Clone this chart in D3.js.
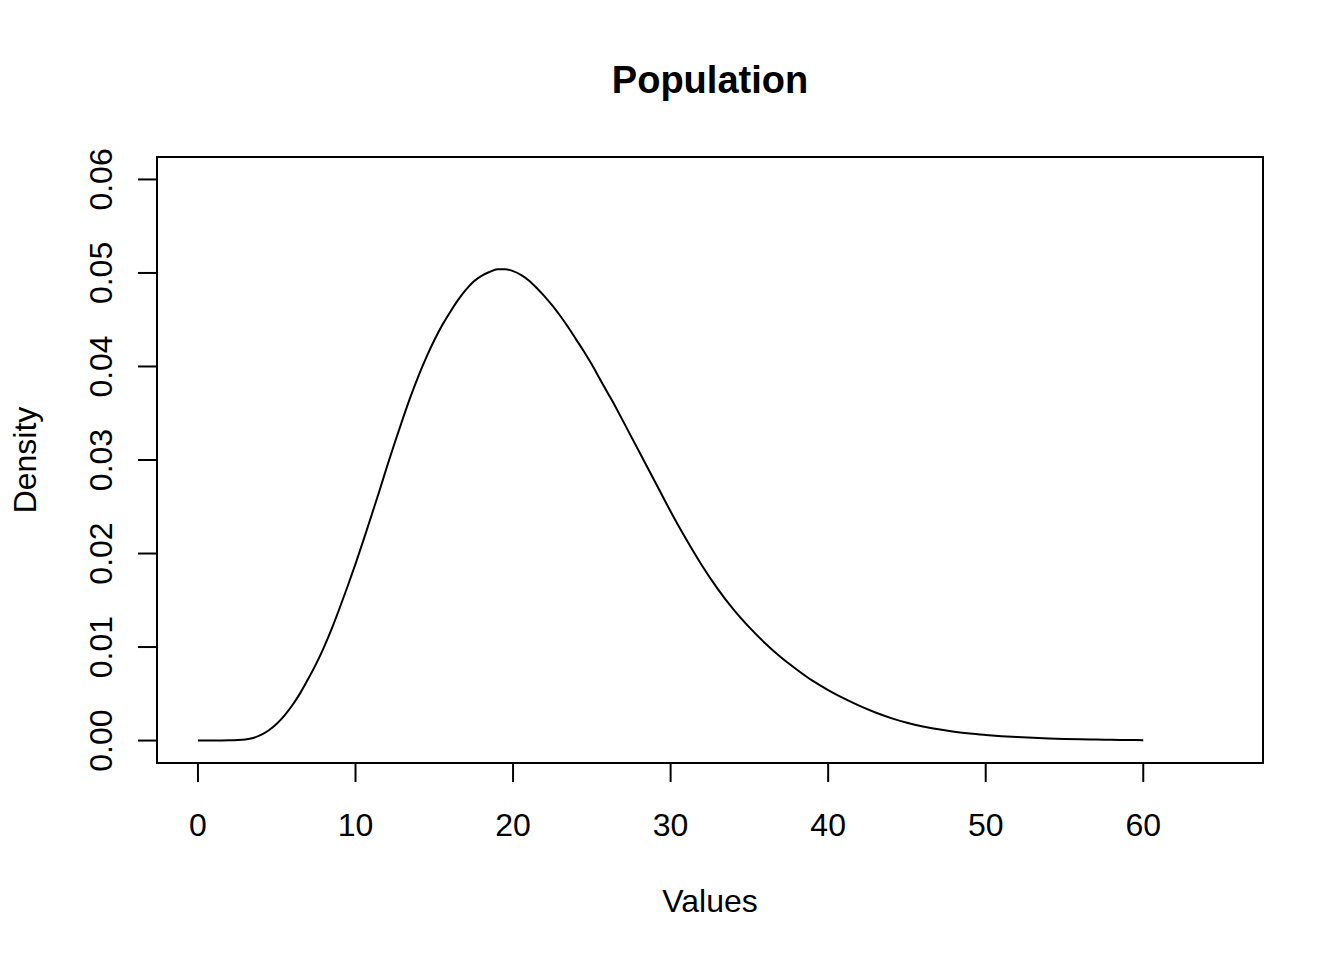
<!DOCTYPE html>
<html>
<head>
<meta charset="utf-8">
<title>Population</title>
<script src="https://cdn.jsdelivr.net/npm/d3@7/dist/d3.min.js"></script>
<style>
  body { margin: 0; background: #fff; }
  text { font-family: "Liberation Sans", Arial, Helvetica, sans-serif; fill: #000; }
</style>
</head>
<body>
<svg id="chart" width="1344" height="960"></svg>
<script>
// density curve
var xVals = [0, 1, 2, 2.5, 3, 3.5, 4, 4.5, 5, 5.5, 6, 6.5, 7, 7.5, 8, 8.5, 9, 9.5,
  10, 10.5, 11, 11.5, 12, 12.5, 13, 13.5, 14, 14.5, 15, 15.5, 16, 16.5, 17, 17.5,
  18, 18.5, 19, 19.5, 20, 20.5, 21, 21.5, 22, 22.5, 23, 23.5, 24, 24.5, 25, 25.5,
  26, 26.5, 27, 27.5, 28, 28.5, 29, 29.5, 30, 31, 32, 33, 34, 35, 36, 37, 38, 39,
  40, 41, 42, 43, 44, 45, 46, 47, 48, 49, 50, 51, 52, 53, 54, 55, 56, 57, 58, 59, 60];
var densVals = [0, 0, 0.00002, 0.00005, 0.00012, 0.00028, 0.0006, 0.0011, 0.0018,
  0.0027, 0.0038, 0.0051, 0.0066, 0.0082, 0.01, 0.012, 0.0142, 0.0165,
  0.0189, 0.0214, 0.024, 0.0266, 0.0293, 0.0319, 0.0344, 0.0368, 0.039, 0.041,
  0.0428, 0.0444, 0.0458, 0.0471, 0.0482, 0.0491,
  0.0497, 0.0501, 0.0504, 0.0504, 0.0502, 0.0498, 0.0492, 0.0484, 0.0475, 0.0465,
  0.0454, 0.0442, 0.0429, 0.0416, 0.0402, 0.0387,
  0.0372, 0.0357, 0.0341, 0.0325, 0.0309, 0.0293, 0.0277, 0.0261, 0.0245, 0.0215,
  0.0187, 0.0162, 0.014, 0.0121, 0.0104, 0.0089, 0.0076, 0.0064,
  0.0054, 0.0045, 0.0037, 0.003, 0.0024, 0.0019, 0.0015, 0.0012, 0.00095, 0.00075,
  0.0006, 0.00047, 0.00037, 0.00029, 0.00022, 0.00017, 0.00013, 0.0001, 0.00008,
  0.00006, 0.00004];
var xTicks = [0, 10, 20, 30, 40, 50, 60];
var yTicks = [0, 0.01, 0.02, 0.03, 0.04, 0.05, 0.06];
var xLimits = [0, 65];
var yLimits = [0, 0.06];

var svg = d3.select("#chart");
var boxL = 157, boxR = 1263, boxT = 157, boxB = 763;

// R style 4% padding on each side of the limits
var xPad = (xLimits[1] - xLimits[0]) * 0.04;
var yPad = (yLimits[1] - yLimits[0]) * 0.04;
var x = d3.scaleLinear().domain([xLimits[0] - xPad, xLimits[1] + xPad]).range([boxL, boxR]);
var y = d3.scaleLinear().domain([yLimits[0] - yPad, yLimits[1] + yPad]).range([boxB, boxT]);

// plot box
svg.append("rect")
  .attr("x", boxL).attr("y", boxT)
  .attr("width", boxR - boxL).attr("height", boxB - boxT)
  .attr("fill", "none").attr("stroke", "#000").attr("stroke-width", 2);

// x axis
var xAxis = svg.append("g").attr("transform", "translate(0," + boxB + ")");
xAxis.append("line")
  .attr("x1", x(xTicks[0])).attr("x2", x(xTicks[xTicks.length - 1]))
  .attr("stroke", "#000").attr("stroke-width", 2);
xAxis.selectAll(".xt").data(xTicks).enter().append("line")
  .attr("x1", function(d){ return x(d); }).attr("x2", function(d){ return x(d); })
  .attr("y1", 0).attr("y2", 19)
  .attr("stroke", "#000").attr("stroke-width", 2);
xAxis.selectAll(".xl").data(xTicks).enter().append("text")
  .attr("x", function(d){ return x(d); }).attr("y", 73)
  .attr("text-anchor", "middle").attr("font-size", 32)
  .text(function(d){ return d; });

// y axis
var yAxis = svg.append("g").attr("transform", "translate(" + boxL + ",0)");
yAxis.append("line")
  .attr("y1", y(yTicks[0])).attr("y2", y(yTicks[yTicks.length - 1]))
  .attr("stroke", "#000").attr("stroke-width", 2);
yAxis.selectAll(".yt").data(yTicks).enter().append("line")
  .attr("y1", function(d){ return y(d); }).attr("y2", function(d){ return y(d); })
  .attr("x1", 0).attr("x2", -19)
  .attr("stroke", "#000").attr("stroke-width", 2);
yAxis.selectAll(".yl").data(yTicks).enter().append("text")
  .attr("transform", function(d){ return "translate(-45," + y(d) + ") rotate(-90)"; })
  .attr("text-anchor", "middle").attr("font-size", 32)
  .text(function(d){ return d3.format(".2f")(d); });

// density line
var line = d3.line()
  .x(function(d){ return x(d[0]); })
  .y(function(d){ return y(d[1]); })
  .curve(d3.curveMonotoneX);
svg.append("path")
  .datum(d3.zip(xVals, densVals))
  .attr("d", line)
  .attr("fill", "none").attr("stroke", "#000").attr("stroke-width", 2);

// titles
svg.append("text")
  .attr("x", (boxL + boxR) / 2).attr("y", 93)
  .attr("text-anchor", "middle").attr("font-size", 38).attr("font-weight", "bold")
  .text("Population");
svg.append("text")
  .attr("x", (boxL + boxR) / 2).attr("y", 912)
  .attr("text-anchor", "middle").attr("font-size", 32)
  .text("Values");
svg.append("text")
  .attr("transform", "translate(36," + (boxT + boxB) / 2 + ") rotate(-90)")
  .attr("text-anchor", "middle").attr("font-size", 32)
  .text("Density");
</script>
</body>
</html>
